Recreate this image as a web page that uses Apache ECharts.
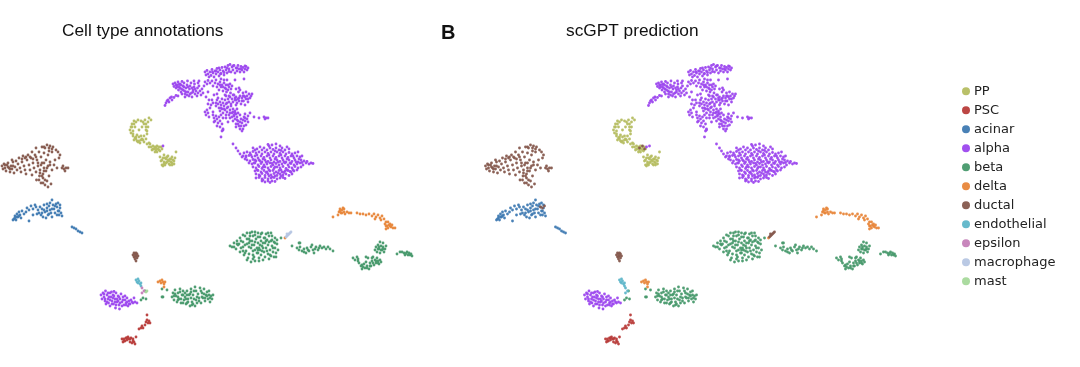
<!DOCTYPE html>
<html><head><meta charset="utf-8">
<style>html,body{margin:0;padding:0;background:#fff}#c{width:1080px;height:367px}</style>
<script src="https://cdn.jsdelivr.net/npm/echarts@6/dist/echarts.min.js"></script>
</head><body><div id="c"></div>
<script>
const cellTypes=['PP','PSC','acinar','alpha','beta','delta','ductal','endothelial','epsilon','macrophage','mast'];
const typeColors=['#b5bd61','#b83c3a','#3f7ab2','#9c47ee','#47996c','#e8863a','#85594d','#5fb6c9','#c580b8','#b6c6e3','#a6d99b'];
const titleLeft='Cell type annotations', titleRight='scGPT prediction', panelTag='B';
// Embedding coordinates, as flat x,y lists per cluster
const alphaTop=[205,72,206,75,207,70.5,208,74,209,77,210,72,211,75.5,212,69.5,213,73,214,77,215,71,216,74,217,68.5,218,72,219,76,220,70,221,73.5,222,67.5,223,71,224,75,225,67,226,70,227,73,228,65.5,229,69,230,64.5,231,72,232,67,233,70,234,65.5,235,73,236,68,237,71,238,65.5,239,69,240,72,241,66.5,242,70,243,67.5,244,72,245,69,246,66.5,247,70,248,68,212.5,72,219,68,224,72.5,229,71.5,233,66,237,68,241,69,245,66,216,71,220.5,74,227,68];
const alphaLeft=[173,84,174,86.5,175,83,176,88,177,85,178,82,178.5,90,179,87,180,84,181,92,181.5,89,182,81.5,183,86,184,83,184.5,91,185,94,186,88,187,85,187.5,81,188,92,189,96,189.5,89,190,86,191,83,191.5,93,192,97,193,90,194,87,194.5,84,195,94,196,91,197,96,197.5,88,198,93,199,86,200,91,201,95,202,89,203,93,185,97,182,94,179,84.5,176,85,194,81,199,81,204,86,208,92,206,97,198,83,170,98,171.5,97,168,100,169,102,172,100,174,97.5,166,103,165,105.5,167,101,178,96,176,95.5,180,88,183,90,186,92,188,87,190,94,193,92,195,89,177,87,181,85,184,87,192,88,187,95];
const alphaMid=[205,82,207,84,208,80.5,210,83,212,81,213,86,215,83,216,80,217,87,218,84,219,90,220,82,221,87,222,85,223,91,224,83,225,88,226,85,226.5,92,227,80,228,90,229,87,230,84,230.5,93,231,89,232,86,221,79,233,95,229,96,235,80,236,89,225,95,217,94,220,85,223,87,226,89,228,85,224,80];
const alphaD=[220,102,222,99,223,103,225,100,226,96,227,103,228,99,229,102,230,97,231,104,232,99,233,102,234,95,235,100,236,97,237,103,238,99,238.5,92,239,101,240,96,241,104,242,98,243,93,243.5,101,244,96,245,105,246,99,247,96,248,102,249,94,250,98,251,96,252,94,240,90,246,92,236,105,235,98,239,98,242,101,245,97,248,99,243,96];
const alphaE=[205,112,206,115,207,110,208,113,209,117,210,108,211,105,213,112,216,106,218,104,219,108,220,111,221,105,222,109,223,113,224,106,225,110,226,104,227,112,228,107,229,115,230,110,231,106,232,113,233,109,234,116,235,111,236,114,237,109,238,113,226,115,216,103,213,103,208,104,212,100,218,98,214,95,221,108,224,109,227,108,230,113,233,112];
const alphaF=[213,115,214,118,215,121,216,116,217,119,218,123,219,117,220,121,222,124,223,118,214,122,217,126,221,115,226,118,228,122,220,127,222,131,221,137,223,130,230,118];
const alphaG=[232,117,233,121,234,115,235,119,236,124,237,117,238,121,239,126,240,115,241,119,242,123,243,129,244,117,245,121,246,125,247,119,248,116,236,127,240,129,244,126,248,122,242,131,238,124,245,114,235,113,240,122,243,120,237,120,241,126,245,118];
const alphaFar=[254,117,259,118,264,117,265,119,266,118,268,118,244,79,236,100,223,129,250,113,239,88,217,100,209,100];
const alphaBlob=[233,144,236,148,238,151,240,154,242,157,244,153,246,156,
268,144.5,272,145,276,144,280,146,
253,148,257,149,260,147,264,148,267,150,270,148,273,149.5,276,148,279,150,282,148,285,150,289,149,
247,152,250,153,253,151.5,256,153,259,152,262,154,265,152,268,153.5,271,152,274,154,277,152,280,153.5,283,152,286,154,289,152.5,292,154,295,153,298,152,
243,156,246,157,249,155.5,252,157,255,156,258,158,261,156,264,157.5,267,156,270,158,273,156,276,157.5,279,156,282,158,285,156,288,157.5,291,156,294,158,297,156,300,157,302,156,
247,160,250,161,253,159.5,256,161,259,160,262,162,265,160,268,161.5,271,160,274,162,277,160,280,161.5,283,160,286,162,289,160,292,161.5,295,160,298,162,301,160,304,161,
252,164,255,163,258,165,261,163.5,264,165,267,164,270,163,273,165,276,163.5,279,165,282,164,285,163,288,165,291,163.5,294,165,297,164,300,163,303,165,306,163,309,164,311,163,313,163.5,307,161.5,
253,167,256,168,259,166.5,262,168.5,265,167,268,168,271,166.5,274,168.5,277,167,280,168,283,166.5,286,168.5,289,167,292,168,295,166.5,298,168,301,167,
255,171,258,170.5,261,172,264,170.5,267,172,270,171,273,170.5,276,172,279,170.5,282,172,285,171,288,170.5,291,172,294,171,297,170,
256,174,259,175,262,173.5,265,175.5,268,174,271,175,274,173.5,277,175.5,280,174,283,175,286,174,289,175.5,292,174,
256,178,259,177.5,262,179,265,177.5,268,179,271,178,274,177.5,277,179,280,178,283,177.5,285,178.5,
262,181,265,182,268,181,270,182.5,272,181,275,181.5,
255,160,249,163,245,159,
255,150,262,150,269,146,275,151,281,150.5,287,147,251,155,257,155,263,159,269,155,275,159,281,155,287,159,293,156,299,159,254,163,260,161,266,162,272,163.5,278,162,284,162,290,163,296,162,302,162.5,257,170,263,167,269,170,275,167,281,170,287,170,293,170,260,176,266,172.5,272,177,278,173,284,172.5,290,171.5,263,180,269,176,275,176,281,176];
const alphaSmall=[101,295,102,299,103,293,104,297,105,301,105.5,291,107,295,108,299,108.5,303,110,293,110,306,111,297,112,301,113,295,113.5,304,114,291.5,115,299,115.5,308,116,293,117,302,118,296,119,305,119.5,309,120,299,121,294,122,302,123,297,124,305,125,300,126,303,127,298,128,306,129,301,130,304,131,300,133,303,135,302,137,303,106,304,111.5,292,116,305,122,306,125,296,109,297,118,301,113,298,127,302,134,298,104,294,107,302,110,300,112,304,114,296,117,299,120,303,123,300,126,305,129,304,132,302,119,297,115,302,108,293,105,299];
const ppRing=[130,130,131,127,131,133,132,124,133,131,134,121,133,136,135,127,135,138,136,122,137,135,137,141,138,120,139,130,139,137,140,143,141,121,142,139,142,127,143,122,144,136,144,142,145,120,146,130,146,124,147,134,148,127,148,122,149,118,151,120,134,140,138,142,143,140,146,139,141,136,149,143,133,134,136,139,139,141,141,140,144,124,146,127,147,131,132,127,134,124,136,137];
const ppLink=[147,144,149,147,150,144,151,147,152,150,153,146,154,149,155,147,156,150,157,146,158,149,159,147,160,151,161,147,162,149,155,152,157,152,153,149,156,148,159,150];
const ppSquare=[160,157,161,161,162,165,163,158,164,162,164,155,165,165,166,159,167,162,168,156,169,164,170,159,171,162,172,157,173,160,174,164,175,158,168,160,163,166,170,165,172,165,176,152,162,160,165,158,166,163,169,161,171,159,172,163,174,161,167,157,164,164];
const ductalMain=[2,166,3,169,4,164,5,168,6,171,7,165,8,163,9,168,10,172,11,166,12,169,13,162,14,173,15,167,16,161,17,170,18,164,19,158,20,168,21,172,22,162,23,156,24,166,25,170,26,174,27,160,28,155,29,165,30,170,31,158,32,175,33,163,34,168,35,155,36,172,36.5,180,37,160,38,166,39,152,39.5,176,40,170,41,157,41,183,42,147,42,163,43,174,43,178,44,153,44,168,45,148,45,185,46,160,46,171,47,145,47,181,48,155,48,166,49,148,49,176,50,162,50,146,51,184,52,170,52,152,53,147,54,165,55,160,56,150,57,168,58,152,60,155,59,158,62,168,64,169,66,168,68,168,63,166,65,171,36,148,32,152,26,157,12,160,48,187,5,165,8,167,10,169,13,166,30,157,33,159,36,157,25,158,22,159,38,163,41,165,44,163,40,173,42,176,44,171,47,168,50,165,39,180,43,183,45,180,44,147,49,151,52,149];
const ductalSmall=[133,255,134,257,134,253,135,254,135,259,136,256,136,261,137,254,137,258,138,256,135,256.5,136,253];
const acinarMain=[13,220,14,219,15,216,16,220,17,214,18,217,19,212,20,215,21,218,22,211,24,214,26,212,27,208,29,210,29,221,31,206,33,209,35,205,36,207,38,210,39,213,40,207,41,215,42,209,43,217,44,205,45,212,46,218,47,208,48,215,49,206,50,210,50,203,51,213,52,217,53,205,54,209,55,213,56,204,57,207,58,211,59,215,60,208,61,213,62,216,52,200,47,204,58,203,44,210,37,214,33,215,15,218,17,217,19,216,47,211,49,214,52,209,55,206,57,215,59,211,42,213,60,205];
const acinarTail=[72,227,74,228,76,229,78,231,80,232,82,233];
const betaBig=[230,246,232,247,234,243,236,249,237,241,238,245,240,238,240,252,241,248,243,235,243,242,244,255,245,245,246,251,247,233,247,239,248,258,249,243,249,254,250,236,251,248,251,262,252,232,252,241,253,251,254,257,254,245,255,235,255,261,256,239,257,248,257,253,258,243,258,233,259,258,260,237,260,250,261,241,261,255,262,246,262,233,263,260,264,238,264,252,265,243,265,257,266,234,266,248,267,240,268,254,268,245,269,236,269,259,270,250,271,241,271,256,272,246,272,236,273,252,274,242,274,257,275,238,275,248,276,253,277,244,277,240,278,250,271,233,247,260,239,244,234,247,253,236,259,248,263,248,258,253,250,241,
237,244,241,241,245,236,243,247,245,253,249,247,249,239,252,245,253,255,255,242,258,237,258,250,261,234,262,251,263,243,265,238,267,251,269,242,270,255,272,240,273,248,275,243,276,257,243,251,247,244,255,250,260,245,266,241,268,233,255,232,250,233,259,261,253,259];
const betaLink=[297,248,299,250,300,247,302,251,304,249,306,253,307,248,309,251,311,247,313,250,314,253,316,247,318,250,320,246,322,248,324,247,326,249,328,247,330,249,312,245,333,251,299,243,292,246,304,252,308,250,315,249,319,248];
const betaA=[375,250,376,247,377,252,378,245,379,249,380,253,381,246,382,250,383,247,384,252,385,249,386,246,380,242,383,243,378,249,381,250,379,247,383,249];
const betaB=[353,258,355,260,357,257,358,261,359,263,361,266,362,269,364,264,365,268,366,262,367,266,368,258,369,269,370,263,371,266,372,261,373,257,374,265,375,260,376,263,377,258,378,261,379,264,380,260,381,262,358,259,366,257,363,267,367,268,370,266,373,263,376,261,372,258,378,263,362,265];
const betaC=[397,254,400,252,402,252,404,253,405,255,407,252,408,255,409,253,411,254,412,256,406,253.5,410,255];
const betaSmall=[172,297,173,293,174,300,175,290,176,296,177,302,178,293,179,299,180,289,181,303,182,295,183,291,184,300,185,297,186,304,187,291,188,299,189,295,190,306,191,289,192,302,193,295,194,299,195,306,196,291,197,303,198,294,199,298,200,288,201,303,202,293,203,298,204,289,205,301,206,295,207,292,208,299,209,295,210,302,211,296,212,299,213,295,195,287,190,294,205,298,185,293,
175,294,178,297,181,299,183,295,186,299,188,302,191,298,193,304,196,300,199,301,202,297,204,294,180,292,187,295,191,292,194,291,197,297,201,291,207,296,210,298,209,291,192,305,187,303,178,300,174,296,183,303];
const betaStray=[281,238,300,243,162,289,163,297,167,290,145,291,143,298,141,300,146,299,162,297];
const deltaA=[338,215,339,212,340,209,341,213,342,210,343,208,344,212,345,214,347,212,349,213,351,213,340,211,342,213,344,209];
const deltaB=[357,213,360,214,363,214,366,215,369,214,372,216,374,214,376,217,378,215,380,218,382,216,384,219,386,222,385,224,387,226,388,222,389,225,390,224,391,227,392,225,393,228,395,228,381,220,375,219,386,229,333,217,285,238,388,228,390,226,386,226];
const deltaSmall=[158,282,160,281,161,283,162,280,163,282,164,284,165,282,164,287];
const psc=[122,339,123,342,124,339,125,341,126,338,127,340,128,337,129,339,130,342,131,338,132,343,133,339,134,342,135,344,136,337,139,329,141,328,142,326,143,328,145,325,146,322,147,320,148,323,149,321,150,323,147,315,124,341,127,338,130,339,133,341];
const endothelial=[136,280,137,282,138,279,138,283,139,281,140,284,141,286,141,283];
const epsilonLeft=[142,288,142,293,144,291];
const macrophageLeft=[286,237,287,236,288,235,289,234,290,233,291,232,287,234];
const mastLeft=[147,291,146,292];
const rightToDuctal=[286,237,287,236,288,235,289,234,290,233,291,232,287,234,57,207,59,208,61,206,156,148,159,146,161,149];
const rightToAlpha=[163,147,166,146];

function pts(...lists){const o=[];lists.forEach(l=>{for(let i=0;i<l.length;i+=2)o.push([l[i],l[i+1]]);});return o;}
const alphaCommon=[alphaTop,alphaLeft,alphaMid,alphaD,alphaE,alphaF,alphaG,alphaFar,alphaBlob,alphaSmall];
const betaCommon=[betaBig,betaLink,betaA,betaB,betaC,betaSmall,betaStray];
const leftData={PP:pts(ppRing,ppLink,ppSquare),PSC:pts(psc),acinar:pts(acinarMain,acinarTail),alpha:pts(...alphaCommon,[163,146]),beta:pts(...betaCommon),delta:pts(deltaA,deltaB,deltaSmall),ductal:pts(ductalMain,ductalSmall),endothelial:pts(endothelial),epsilon:pts(epsilonLeft),macrophage:pts(macrophageLeft),mast:pts(mastLeft)};
const rightData={PP:pts(ppRing,ppLink,ppSquare),PSC:pts(psc),acinar:pts(acinarMain,acinarTail),alpha:pts(...alphaCommon,rightToAlpha),beta:pts(...betaCommon),delta:pts(deltaA,deltaB,deltaSmall),ductal:pts(ductalMain,ductalSmall,rightToDuctal),endothelial:pts(endothelial,epsilonLeft),epsilon:[],macrophage:[],mast:[]};

const series=[];
[leftData,rightData].forEach((d,p)=>cellTypes.forEach((n,i)=>series.push({name:n,type:'scatter',xAxisIndex:p,yAxisIndex:p,data:d[n],symbolSize:2.8,silent:true,animation:false,itemStyle:{color:typeColors[i],opacity:0.95}})));
const hiddenAxis={type:'value',min:0,show:false};
const ttl=(text,left,top,size,weight)=>({text,left,top,textStyle:{fontFamily:'Liberation Sans',fontSize:size,fontWeight:weight,color:'#111'}});
const chart=echarts.init(document.getElementById('c'),null,{renderer:'canvas'});
chart.setOption({backgroundColor:'#fff',animation:false,
 title:[ttl(titleLeft,57,18,17.3,'normal'),ttl(titleRight,561,18,17.3,'normal'),ttl(panelTag,436,18,20,'bold')],
 grid:[{left:0,top:0,width:430,height:367},{left:483.5,top:0,width:430,height:367}],
 xAxis:[{...hiddenAxis,max:430,gridIndex:0},{...hiddenAxis,max:430,gridIndex:1}],
 yAxis:[{...hiddenAxis,max:367,inverse:true,gridIndex:0},{...hiddenAxis,max:367,inverse:true,gridIndex:1}],
 legend:{data:cellTypes,orient:'vertical',left:957,top:79,icon:'circle',itemWidth:8,itemHeight:8,itemGap:4.5,selectedMode:false,
  textStyle:{fontFamily:'DejaVu Sans',fontSize:13,color:'#222',padding:[0,0,0,-1],height:14.5,lineHeight:14.5}},
 series});
</script></body></html>
